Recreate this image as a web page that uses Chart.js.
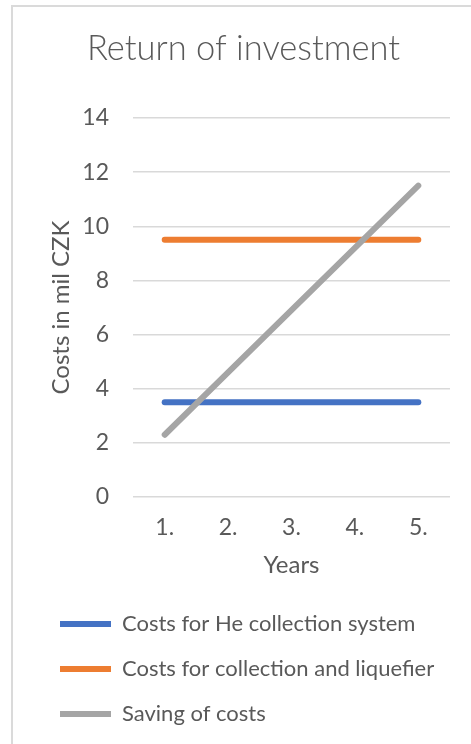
<!DOCTYPE html>
<html>
<head>
<meta charset="utf-8">
<script src="https://cdn.jsdelivr.net/npm/chart.js@4/dist/chart.umd.min.js"></script>
<style>
  html, body { margin: 0; padding: 0; background: #fff; overflow: hidden; }
  #frame { position: absolute; left: 11px; top: 5px; width: 600px; height: 900px;
           border: 2px solid #dadada; box-sizing: border-box; }
  #wrap { position: absolute; left: 0; top: 0; width: 471px; height: 744px; }
</style>
</head>
<body>
<div id="frame"></div>
<div id="wrap"><canvas id="roiChart"></canvas></div>
<script>
const years = ["1.", "2.", "3.", "4.", "5."];
const heSystemCosts = [3.5, 3.5, 3.5, 3.5, 3.5];
const liquefierCosts = [9.5, 9.5, 9.5, 9.5, 9.5];
const savings = [2.3, 4.6, 6.9, 9.2, 11.5];

const textColor = "#595959";
const fontFamily = "Lato, 'Open Sans', sans-serif";

function lineSet(label, values, color, order) {
    return {
        label: label,
        data: values,
        borderColor: color,
        backgroundColor: color,
        borderWidth: 6,
        borderCapStyle: "round",
        pointRadius: 0,
        pointHoverRadius: 0,
        tension: 0,
        order: order
    };
}

const ctx = document.getElementById("roiChart").getContext("2d");
new Chart(ctx, {
    type: "line",
    data: {
        labels: years,
        datasets: [
            lineSet("Costs for He collection system", heSystemCosts, "#4472C4", 0),
            lineSet("Costs for collection and liquefier", liquefierCosts, "#ED7D31", 0),
            // savings line sits on top of the two cost lines
            lineSet("Saving of costs", savings, "#A5A5A5", -1)
        ]
    },
    options: {
        responsive: true,
        maintainAspectRatio: false,
        animation: false,
        layout: { padding: { left: 37, right: 21, top: 0, bottom: 9 } },
        plugins: {
            title: {
                display: true,
                text: "Return of investment",
                color: textColor,
                font: { family: fontFamily, size: 34.5, weight: 300 },
                padding: { top: 28, bottom: 48.6 }
            },
            legend: {
                position: "bottom",
                align: "start",
                labels: {
                    usePointStyle: true,
                    pointStyle: "line",
                    pointStyleWidth: 51,
                    padding: 23,
                    color: textColor,
                    font: { family: fontFamily, size: 22 },
                    sort: (a, b) => a.datasetIndex - b.datasetIndex
                }
            },
            tooltip: { enabled: false }
        },
        scales: {
            x: {
                offset: true,
                grid: { display: false, drawTicks: false },
                border: { display: false },
                ticks: { color: textColor, padding: 17, font: { family: fontFamily, size: 23 } },
                title: {
                    display: true,
                    text: "Years",
                    color: textColor,
                    font: { family: fontFamily, size: 24 },
                    padding: { top: 0, bottom: 10 }
                },
                afterFit: (axis) => { axis.height = 93; }
            },
            y: {
                min: 0,
                max: 14,
                ticks: { stepSize: 2, color: textColor, padding: 24, font: { family: fontFamily, size: 23 } },
                grid: { color: "#d9d9d9", lineWidth: 1.5, drawTicks: false },
                border: { display: false },
                title: {
                    display: true,
                    text: "Costs in mil CZK",
                    color: textColor,
                    font: { family: fontFamily, size: 24 },
                    padding: { top: 10, bottom: 0 }
                },
                afterFit: (axis) => { axis.width = 96; }
            }
        }
    }
});
</script>
</body>
</html>
